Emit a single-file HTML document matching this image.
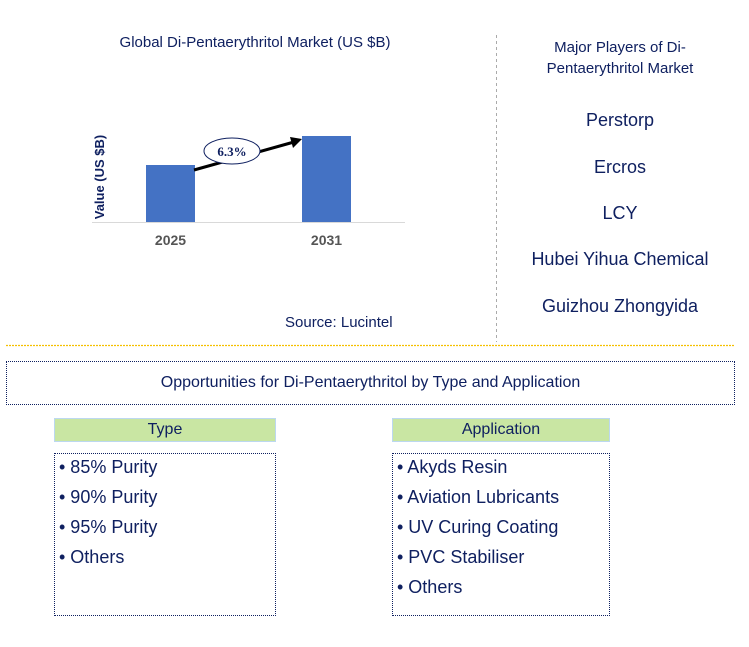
<!DOCTYPE html>
<html><head><meta charset="utf-8"><style>
body{margin:0;width:749px;height:647px;background:#fff;font-family:"Liberation Sans",sans-serif;position:relative;overflow:hidden}
.a{position:absolute}
.t{color:#0f2060}
.hd{background:#c9e6a3;border:1px solid #bcd8f0;color:#0f2060;font-size:16px;text-align:center;line-height:22px;box-sizing:border-box}
.lb{border:1px dotted #0f2060;box-sizing:border-box;padding:0 0 0 4px}
.lb div{font-size:18px;color:#0f2060;height:30px;line-height:26px}
.pl{font-size:18px;color:#0f2060;width:250px;text-align:center;left:495px}
</style></head><body>
<div class="a t" style="left:70px;top:34px;width:370px;text-align:center;font-size:15px">Global Di-Pentaerythritol Market (US $B)</div>
<svg class="a" style="left:0;top:0" width="749" height="647">
<text transform="translate(104,177) rotate(-90)" text-anchor="middle" font-size="13" font-weight="bold" fill="#0f2060" font-family="Liberation Sans">Value (US $B)</text>
<g id="bars"></g>
<line x1="92" y1="222.5" x2="405" y2="222.5" stroke="#d9d9d9"/>
<line x1="194" y1="170" x2="294" y2="142" stroke="#000" stroke-width="3"/>
<polygon points="302,139 290,137 293,148" fill="#000"/>
<ellipse cx="232" cy="151" rx="28" ry="13" fill="#fff" stroke="#0f2060"/>
<text x="232" y="156" text-anchor="middle" font-size="13" font-weight="bold" fill="#0f2060" font-family="Liberation Serif">6.3%</text>
<line x1="496.5" y1="35" x2="496.5" y2="342" stroke="#aaa" stroke-dasharray="3,3"/>
<line x1="6" y1="345.5" x2="735" y2="345.5" stroke="#f5c000" stroke-width="1.2" stroke-dasharray="2,1"/>
</svg>
<script>
const categories=["2025","2031"];
const values=[0.57,0.86];
const g=document.getElementById('bars');
const ns="http://www.w3.org/2000/svg";
const base=222, scale=100, x0=[146,302], bw=49;
categories.forEach((c,i)=>{
 const h=values[i]*scale;
 const r=document.createElementNS(ns,'rect');
 r.setAttribute('x',x0[i]);r.setAttribute('y',base-h);r.setAttribute('width',bw);r.setAttribute('height',h);r.setAttribute('fill','#4472c4');
 
 
 g.appendChild(r);
 const t=document.createElementNS(ns,'text');
 t.setAttribute('x',x0[i]+bw/2);t.setAttribute('y',245);t.setAttribute('text-anchor','middle');t.setAttribute('font-size','14');t.setAttribute('font-weight','bold');t.setAttribute('fill','#555');t.setAttribute('font-family','Liberation Sans');
 t.textContent=c;
 
 
 g.appendChild(t);
});
</script>
<div class="a t" style="left:285px;top:314px;font-size:15px">Source: Lucintel</div>
<div class="a t" style="left:505px;top:37px;width:230px;text-align:center;font-size:15px;line-height:21px">Major Players of Di-<br>Pentaerythritol Market</div>
<div class="a pl" style="top:110px">Perstorp</div>
<div class="a pl" style="top:157px">Ercros</div>
<div class="a pl" style="top:203px">LCY</div>
<div class="a pl" style="top:249px">Hubei Yihua Chemical</div>
<div class="a pl" style="top:296px">Guizhou Zhongyida</div>
<div class="a t" style="left:6px;top:361px;width:729px;height:44px;border:1px dotted #0f2060;box-sizing:border-box;text-align:center;line-height:41px;font-size:16px">Opportunities for Di-Pentaerythritol by Type and Application</div>
<div class="a hd" style="left:54px;top:418px;width:222px;height:24px">Type</div>
<div class="a lb" style="left:54px;top:453px;width:222px;height:163px">
<div>• 85% Purity</div><div>• 90% Purity</div><div>• 95% Purity</div><div>• Others</div></div>
<div class="a hd" style="left:392px;top:418px;width:218px;height:24px">Application</div>
<div class="a lb" style="left:392px;top:453px;width:218px;height:163px">
<div>• Akyds Resin</div><div>• Aviation Lubricants</div><div>• UV Curing Coating</div><div>• PVC Stabiliser</div><div>• Others</div></div>
</body></html>
